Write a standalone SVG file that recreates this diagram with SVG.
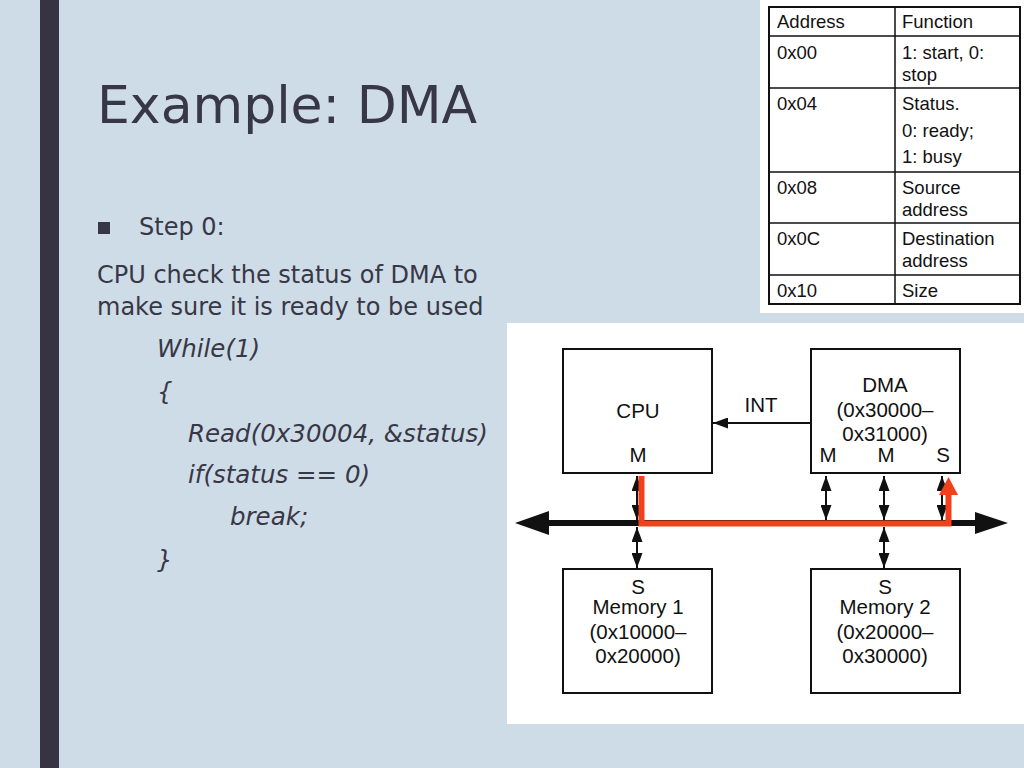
<svg xmlns="http://www.w3.org/2000/svg" width="1024" height="768" viewBox="0 0 1024 768">
<defs>
<style>
.slide{font-family:"DejaVu Sans","Liberation Sans",sans-serif;fill:#383746}
.code{font-family:"DejaVu Sans","Liberation Sans",sans-serif;font-style:italic;font-size:24.5px;fill:#383746}
.tb{font-family:"Liberation Sans",Arial,sans-serif;font-size:18.5px;fill:#111}
.dg{font-family:"Liberation Sans",Arial,sans-serif;font-size:20.5px;fill:#111;text-anchor:middle}
.box{fill:#fff;stroke:#111;stroke-width:2}
.conn{stroke:#111;stroke-width:2;fill:none}
.grid{stroke:#111;stroke-width:1.5}
</style>
<marker id="ah" viewBox="0 0 10 10" refX="10" refY="5" markerWidth="15" markerHeight="11" markerUnits="userSpaceOnUse" orient="auto-start-reverse" preserveAspectRatio="none">
<path d="M0,0 L10,5 L0,10 z" fill="#111"/>
</marker>
</defs>
<rect width="1024" height="768" fill="#cedce7"/>
<rect x="40" y="0" width="19" height="768" fill="#363342"/>

<g id="title">
<text class="slide" x="97" y="123" font-size="52">Example: DMA</text>
</g>
<g id="bullet">
<rect x="98" y="222" width="12" height="12" fill="#383746"/>
<text class="slide" x="139" y="235" font-size="24">Step 0:</text>
<text class="slide" x="97" y="283" font-size="24">CPU check the status of DMA to</text>
<text class="slide" x="97" y="315" font-size="24">make sure it is ready to be used</text>
</g>
<g id="code">
<text class="code" x="157" y="357">While(1)</text>
<text class="code" x="157" y="400">{</text>
<text class="code" x="188" y="442">Read(0x30004, &amp;status)</text>
<text class="code" x="188" y="483">if(status == 0)</text>
<text class="code" x="230" y="525">break;</text>
<text class="code" x="157" y="568">}</text>
</g>

<g id="register-table">
<rect x="760" y="0" width="264" height="313" fill="#fff"/>
<rect x="769" y="7" width="251" height="297" fill="none" stroke="#111" stroke-width="2"/>
<line class="grid" x1="895" y1="7" x2="895" y2="304"/>
<line class="grid" x1="769" y1="36" x2="1020" y2="36"/>
<line class="grid" x1="769" y1="88" x2="1020" y2="88"/>
<line class="grid" x1="769" y1="172" x2="1020" y2="172"/>
<line class="grid" x1="769" y1="223" x2="1020" y2="223"/>
<line class="grid" x1="769" y1="275" x2="1020" y2="275"/>
<text class="tb" x="777" y="28">Address</text>
<text class="tb" x="902" y="28">Function</text>
<text class="tb" x="777" y="59">0x00</text>
<text class="tb" x="902" y="59">1: start, 0:</text>
<text class="tb" x="902" y="81">stop</text>
<text class="tb" x="777" y="110">0x04</text>
<text class="tb" x="902" y="110">Status.</text>
<text class="tb" x="902" y="137">0: ready;</text>
<text class="tb" x="902" y="163">1: busy</text>
<text class="tb" x="777" y="194">0x08</text>
<text class="tb" x="902" y="194">Source</text>
<text class="tb" x="902" y="216">address</text>
<text class="tb" x="777" y="245">0x0C</text>
<text class="tb" x="902" y="245">Destination</text>
<text class="tb" x="902" y="267">address</text>
<text class="tb" x="777" y="297">0x10</text>
<text class="tb" x="902" y="297">Size</text>
</g>

<rect x="507" y="323" width="517" height="401" fill="#fff"/>

<g id="cpu">
<rect class="box" x="563" y="349" width="149" height="124"/>
<text class="dg" x="638" y="418">CPU</text>
<text class="dg" x="638" y="462">M</text>
</g>
<g id="dma">
<rect class="box" x="811" y="349" width="149" height="124"/>
<text class="dg" x="885" y="392">DMA</text>
<text class="dg" x="885" y="417">(0x30000–</text>
<text class="dg" x="885" y="441">0x31000)</text>
<text class="dg" x="828" y="462">M</text>
<text class="dg" x="886" y="462">M</text>
<text class="dg" x="943" y="462">S</text>
</g>
<g id="memory1">
<rect class="box" x="563" y="569" width="149" height="124"/>
<text class="dg" x="638" y="594">S</text>
<text class="dg" x="638" y="614">Memory 1</text>
<text class="dg" x="638" y="639">(0x10000–</text>
<text class="dg" x="638" y="663">0x20000)</text>
</g>
<g id="memory2">
<rect class="box" x="811" y="569" width="149" height="124"/>
<text class="dg" x="885" y="594">S</text>
<text class="dg" x="885" y="614">Memory 2</text>
<text class="dg" x="885" y="639">(0x20000–</text>
<text class="dg" x="885" y="663">0x30000)</text>
</g>

<g id="connectors">
<line x1="546" y1="523" x2="978" y2="523" stroke="#111" stroke-width="6"/>
<path d="M515,523 L549,511 L549,535 z" fill="#111"/>
<path d="M1008,523 L975,512 L975,534 z" fill="#111"/>
<line class="conn" x1="811" y1="423" x2="713" y2="423" marker-end="url(#ah)"/>
<text class="dg" x="761" y="412">INT</text>
<line class="conn" x1="637" y1="476" x2="637" y2="520" marker-start="url(#ah)" marker-end="url(#ah)"/>
<line class="conn" x1="826" y1="476" x2="826" y2="520" marker-start="url(#ah)" marker-end="url(#ah)"/>
<line class="conn" x1="884" y1="476" x2="884" y2="520" marker-start="url(#ah)" marker-end="url(#ah)"/>
<line class="conn" x1="942" y1="476" x2="942" y2="520" marker-start="url(#ah)" marker-end="url(#ah)"/>
<line class="conn" x1="637" y1="527" x2="637" y2="568" marker-start="url(#ah)" marker-end="url(#ah)"/>
<line class="conn" x1="884" y1="527" x2="884" y2="568" marker-start="url(#ah)" marker-end="url(#ah)"/>
<polyline points="641.5,476 641.5,523.5 948.5,523.5 948.5,492" fill="none" stroke="#f2401c" stroke-width="6"/>
<path d="M948.5,477 L958,495 L939,495 z" fill="#f2401c"/>
</g>
</svg>
